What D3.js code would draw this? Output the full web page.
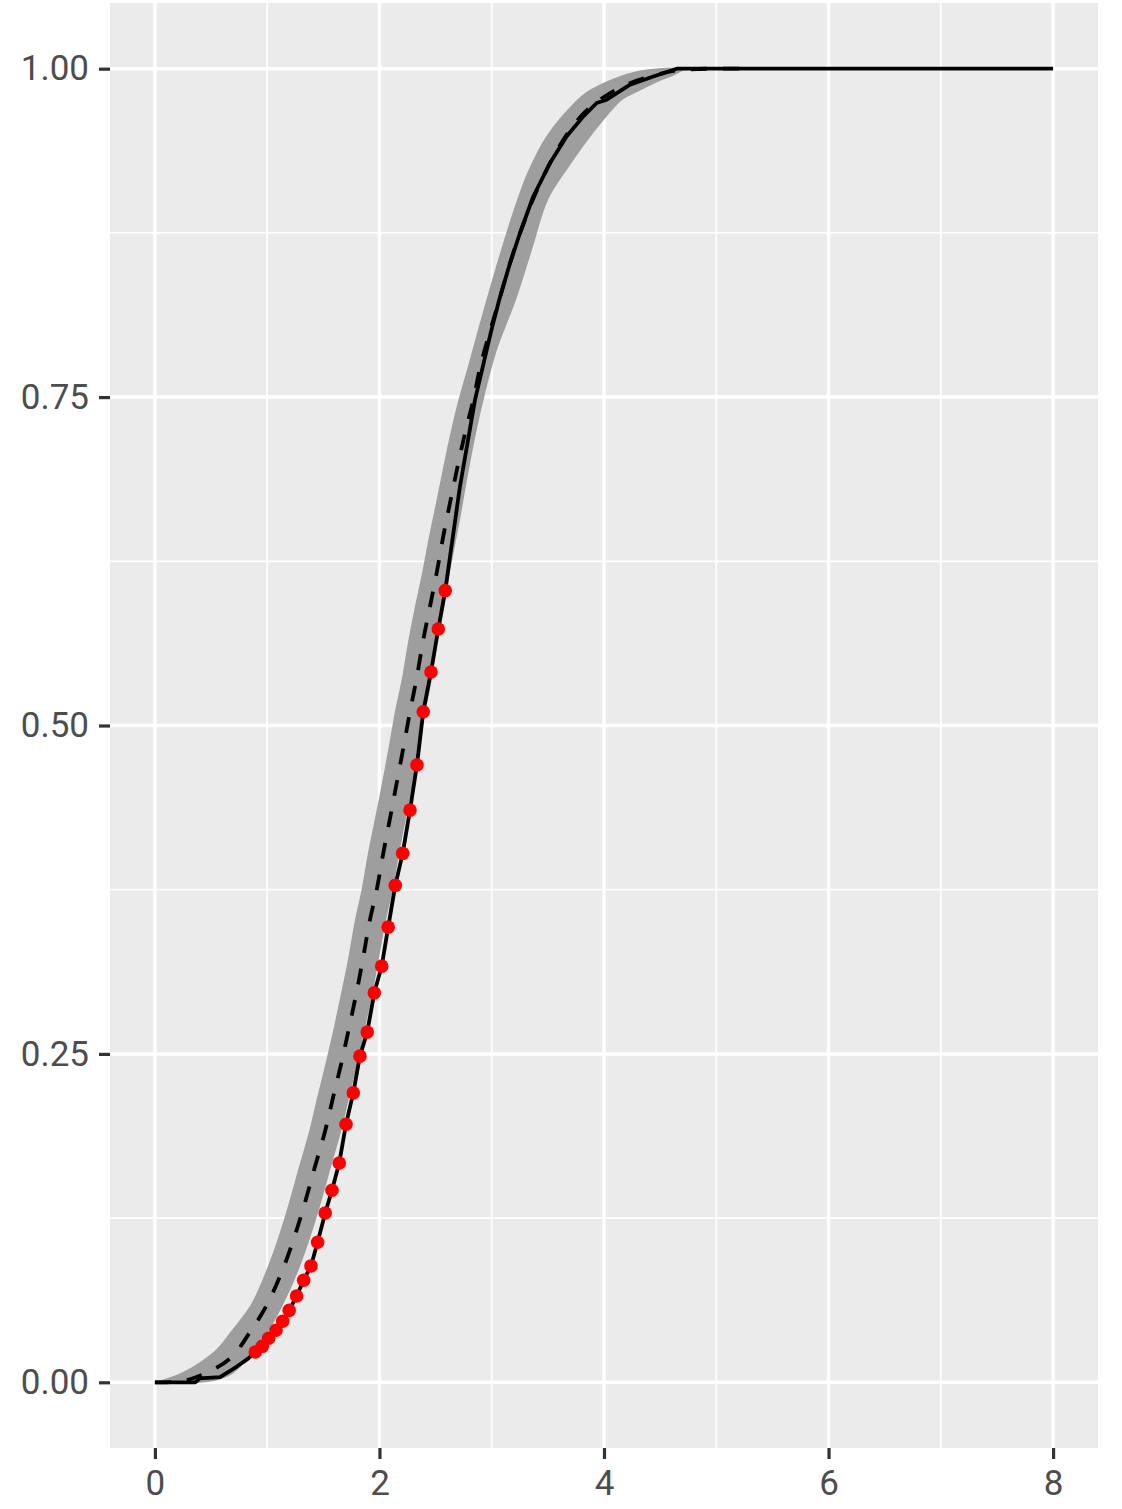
<!DOCTYPE html>
<html>
    <head>
        <meta charset="utf-8" />
        <title>ECDF with simulation envelope</title>
        <script src="https://d3js.org/d3.v7.min.js"></script>
        <style>
        body {
            margin: 0;
            background-color: #ffffff;
        }
        </style>
    </head>
    <body>

    <svg id="chart">
        <g id="panel"></g>
        <g id="grid"></g>
        <g id="shapes"></g>
        <g id="x"></g>
        <g id="y"></g>
    </svg>

    <script>

        var xTicks = [0, 2, 4, 6, 8];
        var xMinor = [1, 3, 5, 7];
        var yTicks = [0, 0.25, 0.5, 0.75, 1];
        var yMinor = [0.125, 0.375, 0.625, 0.875];

        // simulation envelope, upper (left) edge
        var envUpperX = [0.045, 0.134, 0.249, 0.401, 0.552, 0.695, 0.861, 1.002, 1.114, 1.203, 1.292, 1.381, 1.455, 1.532, 1.604, 1.670, 1.733, 1.791, 1.849, 1.906, 1.969, 2.031, 2.089, 2.147, 2.209, 2.267, 2.325, 2.388, 2.450, 2.512, 2.575, 2.641, 2.713, 2.797, 2.905, 3.050, 3.195, 3.323, 3.492, 3.757, 3.846, 4.083, 4.321, 4.558, 4.855];
        var envUpperY = [0.0004, 0.0030, 0.0069, 0.0145, 0.0244, 0.0396, 0.0586, 0.0853, 0.1120, 0.1367, 0.1640, 0.1906, 0.2173, 0.2439, 0.2706, 0.2973, 0.3239, 0.3519, 0.3747, 0.4027, 0.4293, 0.4560, 0.4826, 0.5105, 0.5359, 0.5651, 0.5905, 0.6159, 0.6438, 0.6692, 0.6959, 0.7225, 0.7479, 0.7732, 0.8070, 0.8500, 0.8900, 0.9200, 0.9480, 0.9750, 0.9815, 0.9916, 0.9979, 1.0, 1.0];

        // simulation envelope, lower (right) edge
        var envLowerX = [0.312, 0.445, 0.552, 0.695, 0.820, 0.995, 1.129, 1.269, 1.381, 1.470, 1.559, 1.648, 1.722, 1.797, 1.865, 1.931, 1.989, 2.049, 2.109, 2.167, 2.227, 2.287, 2.343, 2.401, 2.459, 2.512, 2.570, 2.628, 2.708, 2.771, 2.851, 2.940, 3.038, 3.207, 3.350, 3.492, 3.679, 3.893, 4.151, 4.258, 4.499, 4.615, 4.704, 4.855];
        var envLowerY = [0, 0.0008, 0.0023, 0.0076, 0.0183, 0.0381, 0.0586, 0.0853, 0.1120, 0.1367, 0.1640, 0.1906, 0.2173, 0.2439, 0.2706, 0.2973, 0.3239, 0.3519, 0.3747, 0.4027, 0.4293, 0.4560, 0.4826, 0.5105, 0.5359, 0.5651, 0.5905, 0.6210, 0.6565, 0.6870, 0.7225, 0.7555, 0.7860, 0.8241, 0.8622, 0.9002, 0.9256, 0.9510, 0.9764, 0.9815, 0.9916, 0.9954, 0.9992, 1.0];

        // theoretical cdf (dashed)
        var theoX = [0, 0.2, 0.371, 0.668, 0.846, 0.995, 1.136, 1.247, 1.336, 1.425, 1.514, 1.588, 1.663, 1.731, 1.797, 1.856, 1.915, 1.975, 2.034, 2.094, 2.153, 2.212, 2.272, 2.331, 2.390, 2.450, 2.509, 2.568, 2.628, 2.693, 2.762, 2.836, 2.902, 2.984, 3.067, 3.163, 3.27, 3.385, 3.519, 3.67, 3.83, 4.009, 4.23, 4.454, 4.677, 5.3];
        var theoY = [0, 0.0005, 0.0040, 0.0180, 0.0381, 0.0586, 0.0853, 0.1119, 0.1367, 0.1640, 0.1906, 0.2173, 0.2439, 0.2706, 0.2973, 0.3239, 0.3519, 0.3747, 0.4027, 0.4293, 0.4560, 0.4826, 0.5105, 0.5359, 0.5651, 0.5905, 0.6159, 0.6438, 0.6692, 0.6959, 0.7225, 0.7479, 0.7746, 0.7999, 0.8241, 0.852, 0.879, 0.904, 0.928, 0.950, 0.967, 0.979, 0.989, 0.995, 0.999, 1.0];

        // empirical cdf (solid)
        var ecdfX = [0, 0.36, 0.40, 0.58, 0.73, 0.83, 0.894, 0.956, 1.013, 1.078, 1.138, 1.196, 1.262, 1.325, 1.390, 1.449, 1.517, 1.577, 1.642, 1.702, 1.767, 1.826, 1.891, 1.954, 2.020, 2.078, 2.141, 2.207, 2.272, 2.334, 2.390, 2.459, 2.524, 2.586, 2.717, 2.851, 2.991, 3.067, 3.163, 3.252, 3.370, 3.519, 3.668, 3.816, 3.935, 4.024, 4.232, 4.439, 4.648, 8];
        var ecdfY = [0, 0, 0.003, 0.004, 0.012, 0.018, 0.0231, 0.0274, 0.0335, 0.0396, 0.0465, 0.0548, 0.0657, 0.0777, 0.0886, 0.1066, 0.1289, 0.1462, 0.1670, 0.1965, 0.2203, 0.2483, 0.2666, 0.2965, 0.3168, 0.3465, 0.3783, 0.4027, 0.4356, 0.4699, 0.5105, 0.5407, 0.5735, 0.6027, 0.6819, 0.7479, 0.7989, 0.8241, 0.8520, 0.8749, 0.9027, 0.9282, 0.9485, 0.9637, 0.9739, 0.9764, 0.9878, 0.9941, 1.0, 1.0];

        // observed points (red)
        var pointX = [0.894, 0.956, 1.013, 1.078, 1.138, 1.196, 1.262, 1.325, 1.390, 1.449, 1.517, 1.577, 1.642, 1.702, 1.767, 1.826, 1.891, 1.954, 2.020, 2.078, 2.141, 2.207, 2.272, 2.334, 2.390, 2.459, 2.524, 2.586];
        var pointY = [0.0231, 0.0274, 0.0335, 0.0396, 0.0465, 0.0548, 0.0657, 0.0777, 0.0886, 0.1066, 0.1289, 0.1462, 0.1670, 0.1965, 0.2203, 0.2483, 0.2666, 0.2965, 0.3168, 0.3465, 0.3783, 0.4027, 0.4356, 0.4699, 0.5105, 0.5407, 0.5735, 0.6027];

        var width = 1122;
        var height = 1509;
        var margin = {
            top: 3,
            right: 24,
            bottom: 61,
            left: 110
        };

        var svg = d3.select("#chart")
            .attr("width", width)
            .attr("height", height);

        var x = d3.scaleLinear()
            .domain([-0.4, 8.4])
            .range([margin.left, width - margin.right]);

        var y = d3.scaleLinear()
            .domain([-0.05, 1.05])
            .range([height - margin.bottom, margin.top]);

        // grey panel
        svg.select("#panel").append("rect")
            .attr("x", x(-0.4))
            .attr("y", y(1.05))
            .attr("width", x(8.4) - x(-0.4))
            .attr("height", y(-0.05) - y(1.05))
            .style("fill", "#ebebeb");

        var grid = svg.select("#grid");

        grid.selectAll(".xminor").data(xMinor).enter().append("line")
            .attr("x1", function(d) { return x(d); })
            .attr("x2", function(d) { return x(d); })
            .attr("y1", y(-0.05))
            .attr("y2", y(1.05))
            .style("stroke", "#ffffff")
            .style("stroke-width", 1.8);

        grid.selectAll(".yminor").data(yMinor).enter().append("line")
            .attr("x1", x(-0.4))
            .attr("x2", x(8.4))
            .attr("y1", function(d) { return y(d); })
            .attr("y2", function(d) { return y(d); })
            .style("stroke", "#ffffff")
            .style("stroke-width", 1.8);

        grid.selectAll(".xmajor").data(xTicks).enter().append("line")
            .attr("x1", function(d) { return x(d); })
            .attr("x2", function(d) { return x(d); })
            .attr("y1", y(-0.05))
            .attr("y2", y(1.05))
            .style("stroke", "#ffffff")
            .style("stroke-width", 3.5);

        grid.selectAll(".ymajor").data(yTicks).enter().append("line")
            .attr("x1", x(-0.4))
            .attr("x2", x(8.4))
            .attr("y1", function(d) { return y(d); })
            .attr("y2", function(d) { return y(d); })
            .style("stroke", "#ffffff")
            .style("stroke-width", 3.5);

        var shapes = svg.select("#shapes");

        // envelope polygon: upper edge then lower edge backwards
        var envelope = envUpperX.map(function(d, i) { return [d, envUpperY[i]]; })
            .concat(envLowerX.map(function(d, i) { return [d, envLowerY[i]]; }).reverse());

        var line = d3.line()
            .x(function(d) { return x(d[0]); })
            .y(function(d) { return y(d[1]); });

        var smooth = d3.line()
            .x(function(d) { return x(d[0]); })
            .y(function(d) { return y(d[1]); })
            .curve(d3.curveCatmullRom.alpha(0.5));

        var envShape = d3.line()
            .x(function(d) { return x(d[0]); })
            .y(function(d) { return y(d[1]); })
            .curve(d3.curveCatmullRomClosed.alpha(0.5));

        shapes.append("path")
            .attr("d", envShape(envelope))
            .style("fill", "#9e9e9e")
            .style("stroke", "#9e9e9e")
            .style("stroke-width", 2)
            .style("stroke-linejoin", "round");

        var ecdf = ecdfX.map(function(d, i) { return [d, ecdfY[i]]; });
        shapes.append("path")
            .attr("d", line(ecdf))
            .style("fill", "none")
            .style("stroke", "#000000")
            .style("stroke-width", 3.8)
            .style("stroke-linejoin", "round");

        var theo = theoX.map(function(d, i) { return [d, theoY[i]]; });
        shapes.append("path")
            .attr("d", smooth(theo))
            .style("fill", "none")
            .style("stroke", "#000000")
            .style("stroke-width", 3.8)
            .style("stroke-dasharray", "16,16");

        shapes.selectAll(".pt").data(pointX).enter().append("circle")
            .attr("class", "pt")
            .attr("cx", function(d) { return x(d); })
            .attr("cy", function(d, i) { return y(pointY[i]); })
            .attr("r", 6.8)
            .style("fill", "#ff0000");

        // axes
        var xAxis = d3.axisBottom(x)
            .tickValues(xTicks)
            .tickFormat(d3.format("d"))
            .tickSize(11)
            .tickPadding(11);

        svg.select("#x")
            .attr("transform", "translate(0," + y(-0.05) + ")")
            .call(xAxis);

        var yAxis = d3.axisLeft(y)
            .tickValues(yTicks)
            .tickFormat(d3.format(".2f"))
            .tickSize(11)
            .tickPadding(10);

        svg.select("#y")
            .attr("transform", "translate(" + x(-0.4) + ",0)")
            .call(yAxis);

        svg.selectAll("#x, #y").selectAll(".domain").remove();
        svg.selectAll("#x .tick line, #y .tick line")
            .style("stroke", "#333333")
            .style("stroke-width", 3.2);
        svg.selectAll("#x text, #y text")
            .attr("font-family", "Roboto")
            .attr("font-size", "35px")
            .style("fill", "#4d4d4d");

    </script>

    </body>
</html>
